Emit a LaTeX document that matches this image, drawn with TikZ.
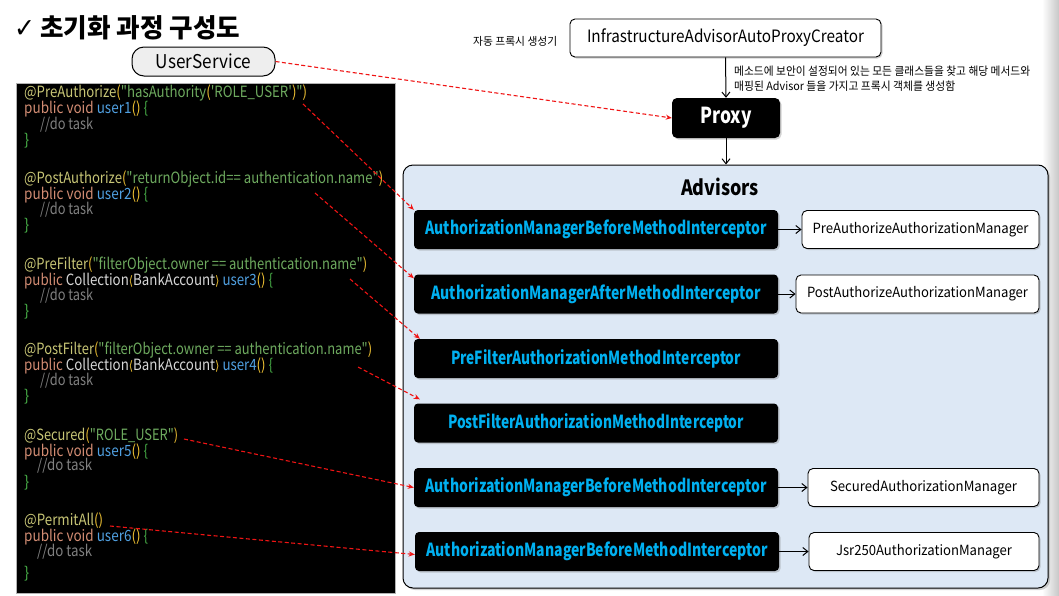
\documentclass[tikz,border=0pt]{standalone}
\usepackage{fontspec}
\setmainfont{Noto Sans CJK KR}[Ligatures=TeXOff]
\newfontfamily\djv{DejaVu Sans}
\usetikzlibrary{arrows.meta,shadows}
\definecolor{icyan}{RGB}{0,176,240}
\definecolor{advfill}{RGB}{221,232,245}
\definecolor{usfill}{RGB}{238,238,238}
\definecolor{cAnno}{RGB}{200,198,118}
\definecolor{cPar}{RGB}{235,190,50}
\definecolor{cStr}{RGB}{110,170,95}
\definecolor{cKey}{RGB}{210,140,115}
\definecolor{cMeth}{RGB}{80,160,225}
\definecolor{cGray}{RGB}{128,128,128}
\definecolor{cBrace}{RGB}{70,170,70}
\definecolor{cType}{RGB}{215,215,215}
\definecolor{dashred}{RGB}{240,20,20}
\newcommand\fitw[2]{\resizebox{#1pt}{\height}{#2}}
\newcommand\cA[1]{\textcolor{cAnno}{#1}}
\newcommand\cP[1]{\textcolor{cPar}{#1}}
\newcommand\cS[1]{\textcolor{cStr}{#1}}
\newcommand\cK[1]{\textcolor{cKey}{#1}}
\newcommand\cM[1]{\textcolor{cMeth}{#1}}
\newcommand\cG[1]{\textcolor{cGray}{#1}}
\newcommand\cB[1]{\textcolor{cBrace}{#1}}
\newcommand\cT[1]{\textcolor{cType}{#1}}
\newcommand\lab{{\djv\fontsize{13}{13}\selectfont\textcolor{cPar}{⟨}}}
\newcommand\rab{{\djv\fontsize{13}{13}\selectfont\textcolor{cPar}{⟩}}}
\tikzset{
  ibox/.style={fill=black, rounded corners=4pt, minimum width=364pt, minimum height=39pt, inner sep=0pt,
    text=icyan, font=\bfseries\fontsize{18}{18}\selectfont,
    drop shadow={opacity=0.35, shadow xshift=1.5pt, shadow yshift=-1.5pt}},
  mbox/.style={fill=white, draw=black, line width=0.9pt, rounded corners=5pt, minimum height=38pt, inner sep=0pt,
    font=\fontsize{14}{14}\selectfont,
    drop shadow={opacity=0.35, shadow xshift=1.5pt, shadow yshift=-1.5pt}},
  codeline/.style={anchor=west, inner sep=0pt, text height=9.5pt, text depth=3pt, font=\fontsize{15.5}{15.5}\selectfont},
  redarrow/.style={draw=dashred, line width=1.1pt, dash pattern=on 4pt off 2.5pt, -{Stealth[length=6pt,width=5pt]}},
  blkarrow/.style={draw=black, line width=1pt, -{Straight Barb[length=5pt,width=8pt]}},
  plain/.style={inner sep=0pt}
}
\begin{document}
\begin{tikzpicture}[x=1pt,y=-1pt]
\useasboundingbox (0,0) rectangle (1059,595);
\fill[white] (0,0) rectangle (1059,595);
\shade[left color=white, right color=black!22] (1042,0) rectangle (1059,595);

% title
\node[plain, anchor=west] (title) at (14,28) {\fitw{21}{\djv\bfseries\fontsize{27}{27}\selectfont ✓}\hspace{5pt}\fitw{200}{\bfseries\fontsize{26}{26}\selectfont 초기화 과정 구성도}};

% UserService
\node[fill=usfill, draw=black, line width=1pt, rounded corners=12pt, minimum width=143pt, minimum height=29pt, inner sep=0pt,
  font=\fontsize{19}{19}\selectfont] (us) at (203.5,61.5) {\fitw{95}{UserService}};

% code panel
\node[fill=black, draw=gray!60, line width=0.6pt, minimum width=379pt, minimum height=510pt, inner sep=0pt] (code) at (205.5,338) {};

\node[codeline] (l1) at (24,94) {\fitw{283}{\cA{@PreAuthorize}\cP{(}\cS{"hasAuthority}\cP{(}\cS{'ROLE\_USER'}\cP{)}\cS{"}\cP{)}}};
\node[codeline] (l2) at (24,110) {\fitw{124}{\cK{public void }\cM{user1}\cP{()} \cB{\{}}};
\node[codeline] (l3) at (40,126) {\fitw{53}{\cG{//do task}}};
\node[codeline] (l4) at (24,142) {\cB{\}}};

\node[codeline] (l5) at (24,180) {\fitw{359}{\cA{@PostAuthorize}\cP{(}\cS{"returnObject.id== authentication.name"}\cP{)}}};
\node[codeline] (l6) at (24,196) {\fitw{124}{\cK{public void }\cM{user2}\cP{()} \cB{\{}}};
\node[codeline] (l7) at (40,211) {\fitw{53}{\cG{//do task}}};
\node[codeline] (l8) at (24,227) {\cB{\}}};

\node[codeline] (l9) at (24,266) {\fitw{343}{\cA{@PreFilter}\cP{(}\cS{"filterObject.owner == authentication.name"}\cP{)}}};
\node[codeline] (l10) at (24,282) {\fitw{249}{\cK{public }\cT{Collection}\lab\cT{BankAccount}\rab\ \cM{user3}\cP{()} \cB{\{}}};
\node[codeline] (l11) at (40,297) {\fitw{53}{\cG{//do task}}};
\node[codeline] (l12) at (24,313) {\cB{\}}};

\node[codeline] (l13) at (24,351) {\fitw{348}{\cA{@PostFilter}\cP{(}\cS{"filterObject.owner == authentication.name"}\cP{)}}};
\node[codeline] (l14) at (24,367) {\fitw{249}{\cK{public }\cT{Collection}\lab\cT{BankAccount}\rab\ \cM{user4}\cP{()} \cB{\{}}};
\node[codeline] (l15) at (40,382) {\fitw{53}{\cG{//do task}}};
\node[codeline] (l16) at (24,398) {\cB{\}}};

\node[codeline] (l17) at (24,437) {\fitw{154}{\cA{@Secured}\cP{(}\cS{"ROLE\_USER"}\cP{)}}};
\node[codeline] (l18) at (24,453) {\fitw{124}{\cK{public void }\cM{user5}\cP{()} \cB{\{}}};
\node[codeline] (l19) at (37,467) {\fitw{55}{\cG{//do task}}};
\node[codeline] (l20) at (24,484) {\cB{\}}};

\node[codeline] (l21) at (24,522) {\fitw{79}{\cA{@PermitAll}\cP{()}}};
\node[codeline] (l22) at (24,538) {\fitw{124}{\cK{public void }\cM{user6}\cP{()} \cB{\{}}};
\node[codeline] (l23) at (37,553) {\fitw{55}{\cG{//do task}}};
\node[codeline] (l24) at (24,575) {\cB{\}}};

% creator and proxy
\node[plain, anchor=west, font=\fontsize{11}{11}\selectfont] (autolab) at (473,41) {\fitw{84}{자동 프록시 생성기}};
\node[mbox, minimum width=311pt, font=\fontsize{17}{17}\selectfont] (creator) at (725.5,38) {\fitw{277}{InfrastructureAdvisorAutoProxyCreator}};
\node[plain, anchor=west, font=\fontsize{11.5}{11.5}\selectfont] (desc1) at (734,71) {\fitw{296}{메소드에 보안이 설정되어 있는 모든 클래스들을 찾고 해당 메서드와}};
\node[plain, anchor=west, font=\fontsize{11.5}{11.5}\selectfont] (desc2) at (734,86) {\fitw{221}{매핑된 Advisor 들을 가지고 프록시 객체를 생성함}};
\node[fill=black, rounded corners=5pt, minimum width=108pt, minimum height=40pt, inner sep=0pt, text=white,
  font=\bfseries\fontsize{22}{22}\selectfont, drop shadow={opacity=0.35, shadow xshift=1.5pt, shadow yshift=-1.5pt}] (proxy) at (726,118) {\fitw{51}{Proxy}};

% advisors container
\node[draw=black, line width=1pt, fill=advfill, rounded corners=10pt, minimum width=645pt, minimum height=423pt, inner sep=0pt,
  drop shadow={opacity=0.35, shadow xshift=2pt, shadow yshift=-2pt}] (adv) at (725.5,376.5) {};
\node[plain, font=\bfseries\fontsize{21}{21}\selectfont] (advt) at (720,187) {\fitw{78}{Advisors}};

% interceptors
\node[ibox] (i1) at (596,229.5) {\fitw{341}{AuthorizationManagerBeforeMethodInterceptor}};
\node[ibox] (i2) at (596,294) {\fitw{329}{AuthorizationManagerAfterMethodInterceptor}};
\node[ibox] (i3) at (596,358.5) {\fitw{290}{PreFilterAuthorizationMethodInterceptor}};
\node[ibox] (i4) at (596,423) {\fitw{296}{PostFilterAuthorizationMethodInterceptor}};
\node[ibox] (i5) at (596,487.5) {\fitw{341}{AuthorizationManagerBeforeMethodInterceptor}};
\node[ibox] (i6) at (597,551.5) {\fitw{341}{AuthorizationManagerBeforeMethodInterceptor}};

% managers
\node[mbox, minimum width=237pt] (m1) at (920.5,229.5) {\fitw{216}{PreAuthorizeAuthorizationManager}};
\node[mbox, minimum width=243pt] (m2) at (917.5,294) {\fitw{221}{PostAuthorizeAuthorizationManager}};
\node[mbox, minimum width=231pt] (m5) at (923.5,487.5) {\fitw{187}{SecuredAuthorizationManager}};
\node[mbox, minimum width=230pt] (m6) at (924,551.5) {\fitw{176}{Jsr250AuthorizationManager}};

% black connectors
\draw[blkarrow] (creator.south) -- (proxy.north);
\draw[blkarrow] (proxy.south) -- (proxy.south |- adv.north);
\draw[blkarrow] (i1.east) -- (m1.west);
\draw[blkarrow] (i2.east) -- (m2.west);
\draw[blkarrow] (i5.east) -- (m5.west);
\draw[blkarrow] (i6.east) -- (m6.west);

% red dashed connectors
\coordinate (s1) at (303,104);
\coordinate (s2) at (315,193);
\coordinate (s3) at (350,279);
\coordinate (s4) at (358,367);
\coordinate (s5) at (184,439);
\coordinate (s6) at (110,526);
\draw[redarrow] (us.east) -- (proxy.west);
\draw[redarrow] (s1) -- (i1.north west);
\draw[redarrow] (s2) -- ([yshift=-4pt]i2.north west);
\draw[redarrow] (s3) -- ([xshift=6pt]i3.north west);
\draw[redarrow] (s4) -- ([xshift=6pt,yshift=4pt]i4.north west);
\draw[redarrow] (s5) -- (i5.west);
\draw[redarrow] (s6) -- ([yshift=-3pt]i6.west);
\end{tikzpicture}
\end{document}
